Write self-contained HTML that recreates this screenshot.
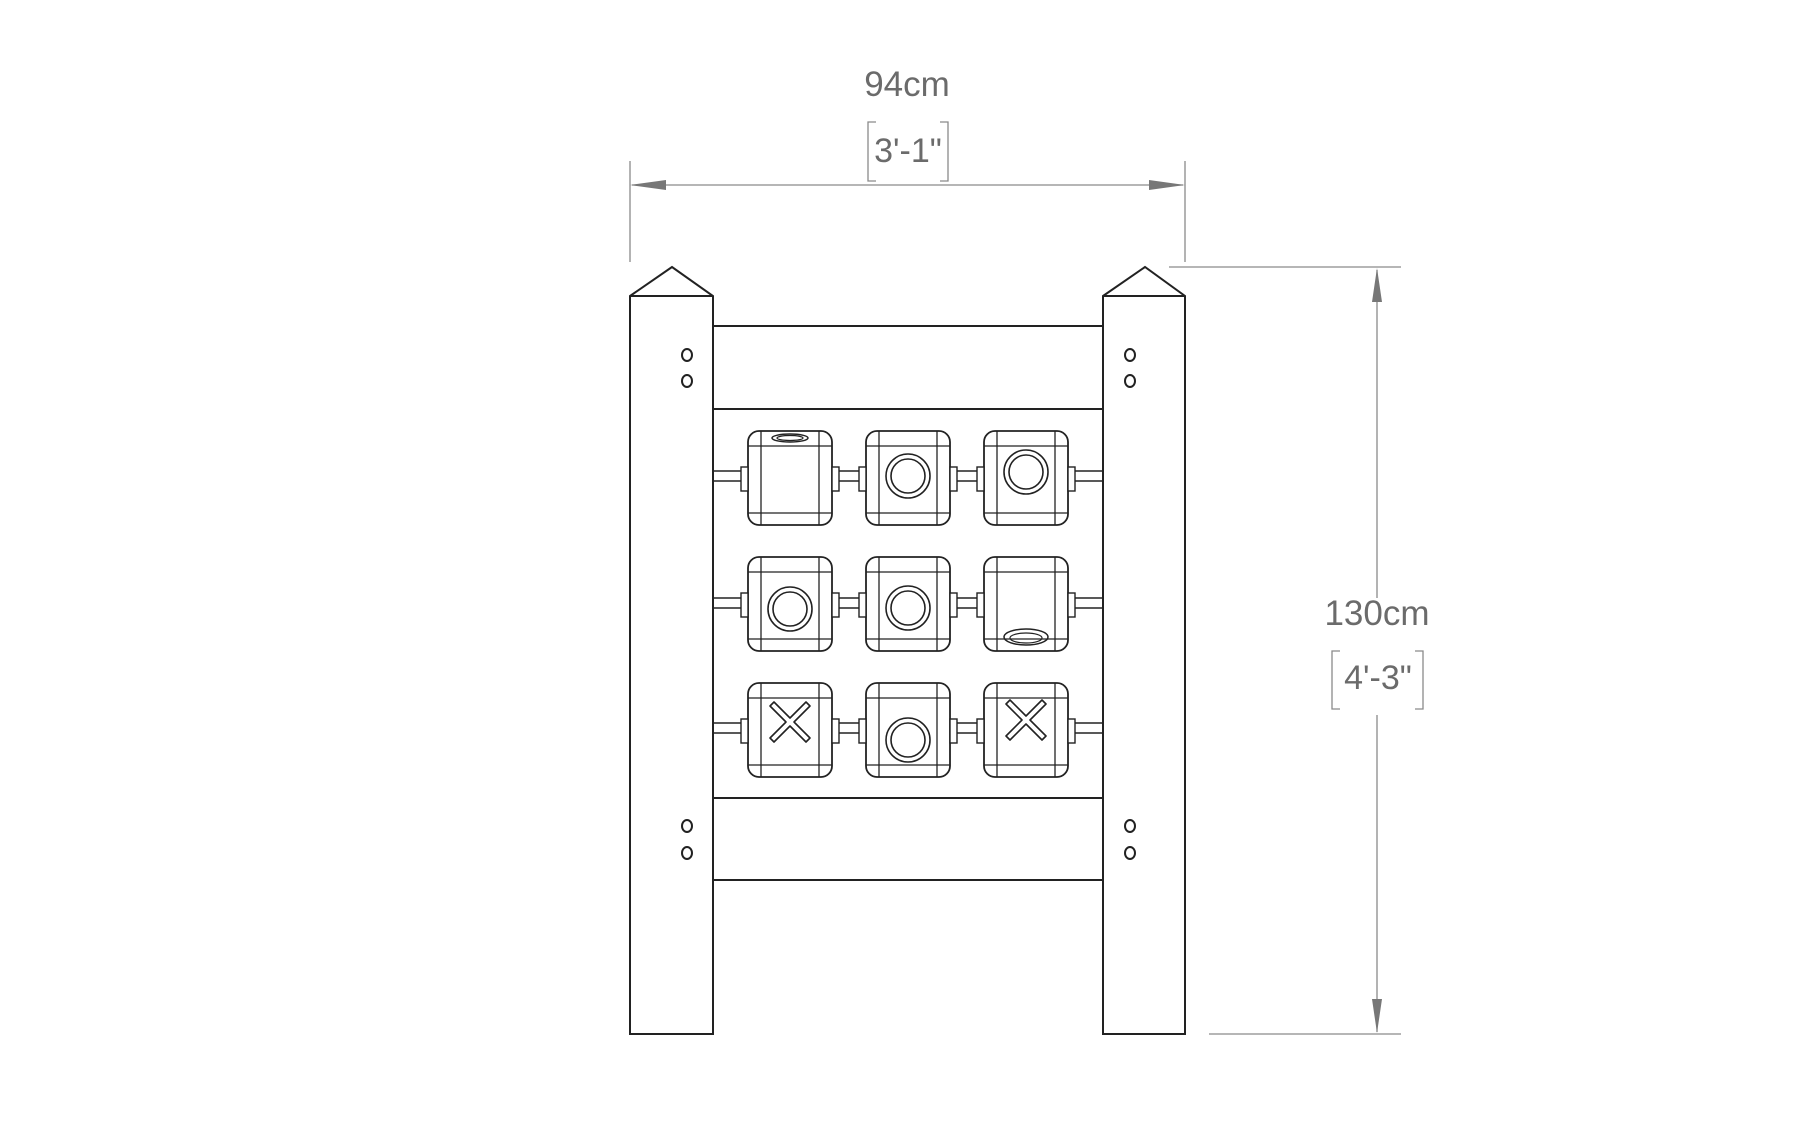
<!DOCTYPE html>
<html><head><meta charset="utf-8"><style>
html,body{margin:0;padding:0;background:#fff;}
svg{display:block;}
text{font-family:"Liberation Sans",sans-serif;fill:#6b6b6b;}
</style></head><body>
<svg width="1800" height="1125" viewBox="0 0 1800 1125" xmlns="http://www.w3.org/2000/svg">
<g stroke="#8a8a8a" stroke-width="1.3" fill="none">
<line x1="630" y1="161" x2="630" y2="262"/>
<line x1="1185" y1="161" x2="1185" y2="262"/>
<line x1="632" y1="185" x2="1183" y2="185"/>
<line x1="1169" y1="267" x2="1401" y2="267"/>
<line x1="1209" y1="1034" x2="1401" y2="1034"/>
<line x1="1377" y1="270" x2="1377" y2="598"/>
<line x1="1377" y1="715" x2="1377" y2="1032"/>
<polyline points="876,122 868,122 868,181 876,181"/>
<polyline points="940,122 948,122 948,181 940,181"/>
<polyline points="1340,651 1332,651 1332,709 1340,709"/>
<polyline points="1415,651 1423,651 1423,709 1415,709"/>
</g>
<g fill="#777">
<polygon points="630,185 666,180 666,190"/>
<polygon points="1185,185 1149,180 1149,190"/>
<polygon points="1377,268 1372,302 1382,302"/>
<polygon points="1377,1033 1372,999 1382,999"/>
</g>
<text x="907" y="96" font-size="35" text-anchor="middle">94cm</text>
<text x="908" y="162" font-size="34" text-anchor="middle">3'-1"</text>
<text x="1377" y="625" font-size="35" text-anchor="middle">130cm</text>
<text x="1378" y="689" font-size="34" text-anchor="middle">4'-3"</text>

<g stroke="#222" stroke-width="2" fill="none">
<polygon points="630,296 672,267 713,296 713,1034 630,1034"/>
<line x1="630" y1="296" x2="713" y2="296"/>
<polygon points="1103,296 1145,267 1185,296 1185,1034 1103,1034"/>
<line x1="1103" y1="296" x2="1185" y2="296"/>
<line x1="713" y1="326" x2="1103" y2="326"/>
<line x1="713" y1="409" x2="1103" y2="409"/>
<line x1="713" y1="798" x2="1103" y2="798"/>
<line x1="713" y1="880" x2="1103" y2="880"/>
<ellipse cx="687" cy="355" rx="5" ry="6"/>
<ellipse cx="687" cy="381" rx="5" ry="6"/>
<ellipse cx="687" cy="826" rx="5" ry="6"/>
<ellipse cx="687" cy="853" rx="5" ry="6"/>
<ellipse cx="1130" cy="355" rx="5" ry="6"/>
<ellipse cx="1130" cy="381" rx="5" ry="6"/>
<ellipse cx="1130" cy="826" rx="5" ry="6"/>
<ellipse cx="1130" cy="853" rx="5" ry="6"/>
</g>

<g stroke="#222" stroke-width="1.6" fill="none">
<line x1="713" y1="471" x2="1103" y2="471"/><line x1="713" y1="481" x2="1103" y2="481"/>
<line x1="713" y1="598" x2="1103" y2="598"/><line x1="713" y1="608" x2="1103" y2="608"/>
<line x1="713" y1="723" x2="1103" y2="723"/><line x1="713" y1="733" x2="1103" y2="733"/>
</g>

<defs>
<g id="cube">
<rect x="-42" y="-47" width="84" height="94" rx="11" fill="#fff" stroke="#222" stroke-width="1.8"/>
<line x1="-29" y1="-47" x2="-29" y2="47" stroke="#222" stroke-width="1.3"/>
<line x1="29" y1="-47" x2="29" y2="47" stroke="#222" stroke-width="1.3"/>
<line x1="-42" y1="-32" x2="42" y2="-32" stroke="#222" stroke-width="1.3"/>
<line x1="-42" y1="35" x2="42" y2="35" stroke="#222" stroke-width="1.3"/>
<rect x="-49" y="-11" width="7" height="24" fill="#fff" stroke="#222" stroke-width="1.4"/>
<rect x="42" y="-11" width="7" height="24" fill="#fff" stroke="#222" stroke-width="1.4"/>
</g>
<g id="o" fill="none" stroke="#222" stroke-width="1.6"><circle r="22"/><circle r="17"/></g>
<g id="x" fill="none" stroke="#222" stroke-width="1.6">
<path d="M-20,-16 L-16,-20 L0,-4 L16,-20 L20,-16 L4,0 L20,16 L16,20 L0,4 L-16,20 L-20,16 L-4,0 Z" stroke-linejoin="round"/>
</g>
</defs>

<use href="#cube" x="790" y="478"/>
<ellipse cx="790" cy="438" rx="18" ry="4" fill="none" stroke="#222" stroke-width="1.5"/>
<ellipse cx="790" cy="438" rx="13" ry="2.5" fill="none" stroke="#222" stroke-width="1.2"/>
<use href="#cube" x="908" y="478"/><use href="#o" x="908" y="476"/>
<use href="#cube" x="1026" y="478"/><use href="#o" x="1026" y="472"/>
<use href="#cube" x="790" y="604"/><use href="#o" x="790" y="609"/>
<use href="#cube" x="908" y="604"/><use href="#o" x="908" y="608"/>
<use href="#cube" x="1026" y="604"/>
<ellipse cx="1026" cy="637" rx="22" ry="8" fill="none" stroke="#222" stroke-width="1.5"/>
<ellipse cx="1026" cy="638" rx="16" ry="5" fill="none" stroke="#222" stroke-width="1.2"/>
<use href="#cube" x="790" y="730"/><use href="#x" x="790" y="722"/>
<use href="#cube" x="908" y="730"/><use href="#o" x="908" y="740"/>
<use href="#cube" x="1026" y="730"/><use href="#x" x="1026" y="720"/>
</svg>
</body></html>
